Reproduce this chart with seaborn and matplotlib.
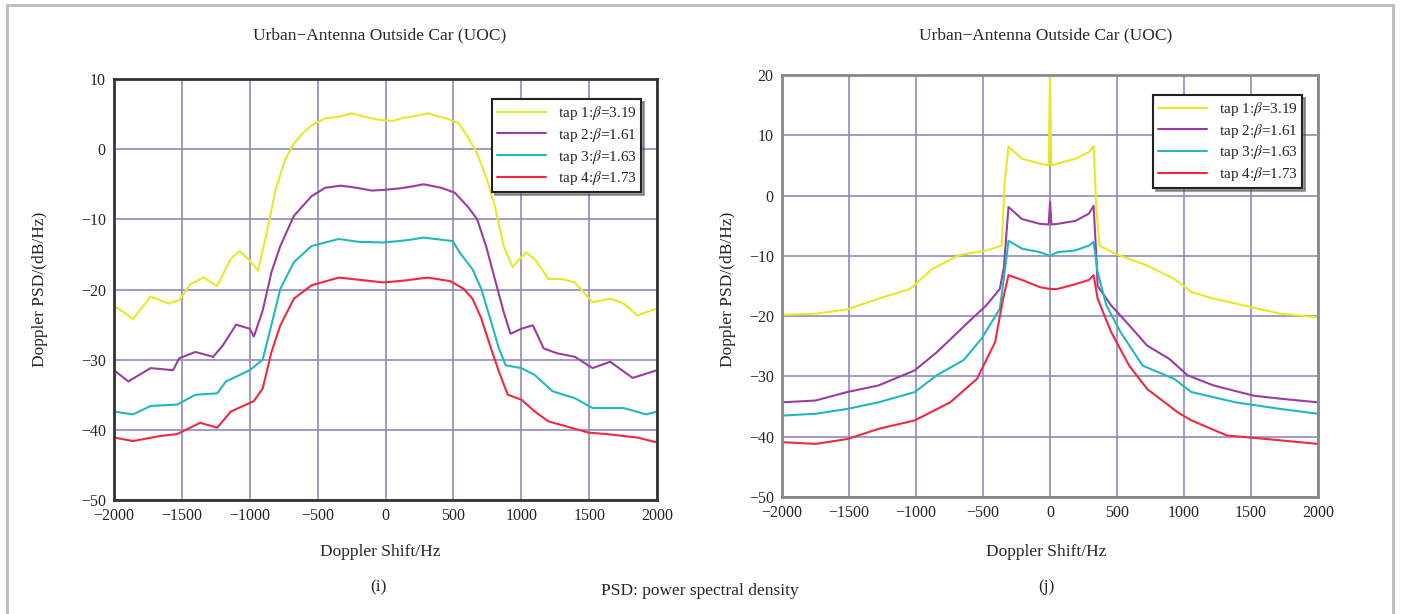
import pandas as pd
import matplotlib
matplotlib.use('Agg')
import matplotlib.pyplot as plt
import seaborn as sns

# ---- data (Doppler shift in Hz, PSD in dB/Hz) ----
TAPS = ['tap 1:$\\beta$=3.19', 'tap 2:$\\beta$=1.61', 'tap 3:$\\beta$=1.63', 'tap 4:$\\beta$=1.73']
COLORS = ['#e8e828', '#9a3da0', '#22b8bc', '#f02840']

# panel (i)
i_tap1_f = [-2000, -1860, -1730, -1600, -1520, -1435, -1340, -1240, -1140, -1075, -1010, -940, -875, -810,
            -740, -675, -610, -545, -445, -350, -250, -150, -50, 50, 115, 210, 310, 445, 540, 610, 675, 740,
            805, 870, 935, 985, 1035, 1100, 1200, 1300, 1395, 1525, 1655, 1755, 1855, 2000]
i_tap1_p = [-22.3, -24.2, -21.0, -22.0, -21.5, -19.2, -18.3, -19.5, -15.6, -14.5, -15.7, -17.3, -11.9, -5.8,
            -1.5, 0.8, 2.3, 3.4, 4.4, 4.6, 5.1, 4.6, 4.2, 4.0, 4.4, 4.7, 5.1, 4.4, 3.7, 1.6, -0.6, -3.9,
            -8.1, -13.8, -16.8, -15.7, -14.7, -15.7, -18.5, -18.5, -19.0, -21.8, -21.3, -22.0, -23.7, -22.7]
i_tap2_f = [-2000, -1895, -1730, -1565, -1520, -1400, -1270, -1200, -1100, -1000, -970, -905, -840, -775,
            -675, -545, -445, -330, -215, -100, -15, 100, 200, 280, 410, 510, 610, 675, 740, 805, 870,
            920, 1000, 1085, 1165, 1265, 1395, 1525, 1655, 1820, 2000]
i_tap2_p = [-31.5, -33.1, -31.2, -31.5, -29.8, -28.9, -29.6, -28.0, -25.0, -25.6, -26.7, -23.0, -17.5, -13.8,
            -9.5, -6.7, -5.5, -5.2, -5.5, -5.9, -5.8, -5.6, -5.3, -5.0, -5.5, -6.2, -8.3, -10.0, -13.8, -18.5, -23.2,
            -26.3, -25.6, -25.1, -28.4, -29.1, -29.6, -31.2, -30.3, -32.6, -31.5]
i_tap3_f = [-2000, -1860, -1730, -1535, -1400, -1240, -1175, -1000, -905, -840, -775, -675, -545, -345,
            -200, -15, 150, 280, 495, 545, 640, 705, 770, 835, 885, 1000, 1100, 1230, 1395, 1525, 1755,
            1920, 2000]
i_tap3_p = [-37.4, -37.8, -36.6, -36.4, -35.0, -34.8, -33.1, -31.5, -30.0, -25.0, -19.9, -16.1, -13.8, -12.8,
            -13.2, -13.3, -13.0, -12.6, -13.1, -14.7, -17.1, -19.9, -24.1, -28.4, -30.8, -31.2, -32.2, -34.5,
            -35.5, -36.9, -36.9, -37.8, -37.4]
i_tap4_f = [-2000, -1860, -1665, -1535, -1365, -1240, -1140, -970, -905, -840, -775, -675, -545, -345,
            -200, -15, 150, 310, 475, 575, 640, 705, 770, 835, 900, 1000, 1100, 1200, 1330, 1495, 1625,
            1855, 2000]
i_tap4_p = [-41.1, -41.6, -40.9, -40.6, -39.0, -39.7, -37.4, -35.9, -34.1, -28.9, -25.1, -21.3, -19.4, -18.3,
            -18.6, -19.0, -18.7, -18.3, -18.8, -19.9, -21.3, -24.1, -28.0, -31.7, -35.0, -35.7, -37.4, -38.8,
            -39.5, -40.4, -40.6, -41.1, -41.8]

# panel (j)
j_tap1_f = [-2000, -1750, -1515, -1280, -1045, -880, -680, -475, -360, -340, -310, -210, -75, -10, 0, 10,
            55, 190, 290, 325, 345, 370, 490, 725, 925, 1055, 1220, 1520, 1720, 2000]
j_tap1_p = [-19.8, -19.6, -18.9, -17.1, -15.5, -12.2, -9.9, -9.1, -8.3, 2.0, 8.1, 6.1, 5.3, 5.0, 20.0, 5.0,
            5.3, 6.1, 7.2, 8.2, -2.0, -8.3, -9.7, -11.6, -13.8, -16.0, -17.1, -18.6, -19.6, -20.2]
j_tap2_f = [-2000, -1750, -1515, -1280, -1010, -845, -610, -475, -375, -345, -310, -210, -75, -10, 0, 10,
            55, 190, 290, 325, 345, 355, 455, 590, 725, 890, 1025, 1220, 1520, 1720, 2000]
j_tap2_p = [-34.3, -34.0, -32.6, -31.5, -29.0, -26.0, -21.0, -18.2, -15.5, -12.0, -1.9, -3.9, -4.7, -4.8, -1.0,
            -4.8, -4.7, -4.2, -3.0, -1.7, -10.0, -15.0, -18.2, -21.5, -24.9, -27.1, -29.8, -31.5, -33.2, -33.7, -34.3]
j_tap3_f = [-2000, -1750, -1515, -1280, -1010, -845, -645, -510, -375, -345, -310, -210, -75, 0, 55, 190,
            290, 325, 355, 420, 525, 690, 925, 1055, 1385, 1720, 2000]
j_tap3_p = [-36.5, -36.2, -35.4, -34.3, -32.6, -29.8, -27.3, -23.7, -18.8, -13.8, -7.5, -8.8, -9.4, -10.0, -9.4,
            -9.1, -8.3, -7.7, -12.7, -18.2, -22.6, -28.2, -30.4, -32.6, -34.3, -35.4, -36.2]
j_tap4_f = [-2000, -1750, -1515, -1280, -1010, -745, -545, -410, -350, -310, -210, -75, 0, 55, 190, 290,
            325, 355, 455, 590, 725, 955, 1055, 1320, 1620, 2000]
j_tap4_p = [-40.9, -41.2, -40.4, -38.7, -37.3, -34.3, -30.4, -24.3, -17.1, -13.2, -14.0, -15.2, -15.5, -15.5,
            -14.7, -14.0, -13.2, -17.1, -22.6, -28.2, -32.1, -36.0, -37.3, -39.8, -40.4, -41.2]

PANEL_I = [(i_tap1_f, i_tap1_p), (i_tap2_f, i_tap2_p), (i_tap3_f, i_tap3_p), (i_tap4_f, i_tap4_p)]
PANEL_J = [(j_tap1_f, j_tap1_p), (j_tap2_f, j_tap2_p), (j_tap3_f, j_tap3_p), (j_tap4_f, j_tap4_p)]

TITLE = 'Urban\u2212Antenna Outside Car (UOC)'
XLABEL = 'Doppler Shift/Hz'
YLABEL = 'Doppler PSD/(dB/Hz)'


def to_frame(panel):
    parts = []
    for name, (f, p) in zip(TAPS, panel):
        parts.append(pd.DataFrame({'freq': f, 'psd': p, 'tap': name}))
    return pd.concat(parts, ignore_index=True)


def draw(ax, df, ylim, yticks, spine_color, spine_w):
    sns.lineplot(data=df, x='freq', y='psd', hue='tap', palette=COLORS, estimator=None,
                 linewidth=1.5, ax=ax)
    ax.set_xlim(-2000, 2000)
    ax.set_ylim(*ylim)
    ax.set_xticks(range(-2000, 2001, 500))
    ax.set_yticks(yticks)
    ax.grid(True, color='#8c8cc0', linewidth=1.2)
    ax.set_axisbelow(True)
    for s in ax.spines.values():
        s.set_color(spine_color)
        s.set_linewidth(spine_w)
    ax.tick_params(direction='in', length=4, labelsize=11.5, pad=6, color='#222222')
    ax.set_xlabel('')
    ax.set_ylabel('')
    leg = ax.legend(loc='upper right', fontsize=11, frameon=True, fancybox=False, shadow=True,
                    borderpad=0.3, handlelength=3.2, labelspacing=0.25, handletextpad=0.8,
                    bbox_to_anchor=(0.985, 0.97))
    leg.get_frame().set_edgecolor('#222222')
    leg.get_frame().set_linewidth(1.5)


def main():
    sns.set_style('white')
    plt.rcParams['font.family'] = ['Liberation Serif', 'DejaVu Serif']
    plt.rcParams['mathtext.fontset'] = 'stix'

    fig = plt.figure(figsize=(14.01, 6.14), dpi=100)
    ax1 = fig.add_axes([0.0814, 0.1857, 0.3876, 0.6856])
    ax2 = fig.add_axes([0.5582, 0.1906, 0.3826, 0.6873])

    draw(ax1, to_frame(PANEL_I), (-50, 10), range(-50, 11, 10), '#333333', 2.0)
    draw(ax2, to_frame(PANEL_J), (-50, 20), range(-50, 21, 10), '#888888', 2.0)

    # titles, axis labels and captions placed as in the reference
    for cx, ylx in [(0.2712, 0.0286), (0.7466, 0.5196)]:
        fig.text(cx, 0.943, TITLE, ha='center', va='center', fontsize=12.5)
        fig.text(cx, 0.101, XLABEL, ha='center', va='center', fontsize=12.5)
        fig.text(ylx, 0.528, YLABEL, ha='center', va='center', rotation=90, fontsize=12.5)
    fig.text(0.2700, 0.044, '(i)', ha='center', va='center', fontsize=12.5)
    fig.text(0.7466, 0.044, '(j)', ha='center', va='center', fontsize=12.5)
    fig.text(0.4996, 0.0375, 'PSD: power spectral density', ha='center', va='center', fontsize=12.5)

    # light outer frame of the figure panel
    fig.patches.append(plt.Rectangle((0.005, -0.05), 0.989, 1.042, transform=fig.transFigure,
                                     fill=False, edgecolor='#bbbbbb', linewidth=2))

    fig.savefig('out.png', dpi=100)
    plt.close(fig)


if __name__ == '__main__':
    main()
